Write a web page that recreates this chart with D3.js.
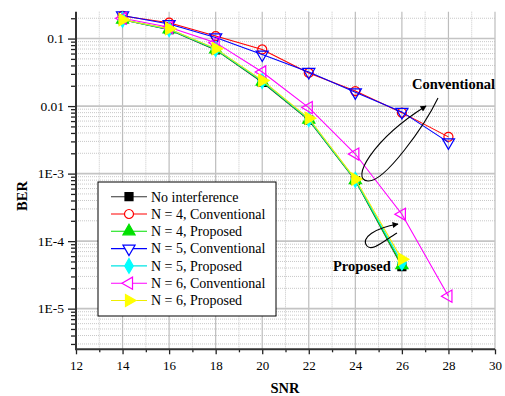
<!DOCTYPE html>
<html lang="en">
<head>
<meta charset="UTF-8">
<title>BER vs SNR</title>
<script src="https://cdnjs.cloudflare.com/ajax/libs/d3/7.8.5/d3.min.js"></script>
<style>
  body { margin: 0; background: #fff; }
  text { font-family: "Liberation Serif", "Times New Roman", serif; fill: #000; }
</style>
</head>
<body>
<div id="chart"></div>
<script>
// SNR points
const snr = [14, 16, 18, 20, 22, 24, 26, 28];

const noInterference = [0.19, 0.135, 0.068, 0.0225, 0.0062, 0.00079, 4.2e-5];
const n4Conventional = [0.216, 0.172, 0.109, 0.069, 0.031, 0.0167, 0.0080, 0.0035];
const n4Proposed = [0.19, 0.137, 0.069, 0.023, 0.0063, 0.0008, 4.4e-5];
const n5Conventional = [0.22, 0.164, 0.104, 0.058, 0.032, 0.016, 0.0082, 0.0029];
const n5Proposed = [0.19, 0.138, 0.07, 0.0235, 0.0064, 0.00081, 4.8e-5];
const n6Conventional = [0.2, 0.147, 0.087, 0.032, 0.0095, 0.00195, 0.00025, 1.53e-5];
const n6Proposed = [0.19, 0.14, 0.071, 0.024, 0.0066, 0.00083, 5.4e-5];

const xTicks = [12, 14, 16, 18, 20, 22, 24, 26, 28, 30];
const yTicks = [0.1, 0.01, 1e-3, 1e-4, 1e-5];
const yTickLabels = ["0.1", "0.01", "1E-3", "1E-4", "1E-5"];

const series = [
  {name: "No interference", values: noInterference, color: "#000", line: "#333", symbol: d3.symbolSquare, fill: true, rot: 0},
  {name: "N = 4, Conventional", values: n4Conventional, color: "#ff0000", line: "#ff0000", symbol: d3.symbolCircle, fill: false, rot: 0},
  {name: "N = 4, Proposed", values: n4Proposed, color: "#00e000", line: "#00e000", symbol: d3.symbolTriangle, fill: true, rot: 0},
  {name: "N = 5, Conventional", values: n5Conventional, color: "#0000ff", line: "#0000ff", symbol: d3.symbolTriangle, fill: false, rot: 180},
  {name: "N = 5, Proposed", values: n5Proposed, color: "#00ffff", line: "#00e5e5", symbol: d3.symbolDiamond, fill: true, rot: 0},
  {name: "N = 6, Conventional", values: n6Conventional, color: "#ff00ff", line: "#ff00ff", symbol: d3.symbolTriangle, fill: false, rot: -90},
  {name: "N = 6, Proposed", values: n6Proposed, color: "#ffff00", line: "#eeee00", symbol: d3.symbolTriangle, fill: true, rot: 90}
];

const W = 505, H = 396;
const pLeft = 76, pRight = 495, pTop = 11.7, pBottom = 349.3;

const svg = d3.select("#chart").append("svg").attr("width", W).attr("height", H);

const x = d3.scaleLinear().domain([12, 30]).range([pLeft, pRight]);
const y = d3.scaleLog().domain([2.5e-6, 0.25]).range([pBottom, pTop]);

// minor values
const minorX = d3.range(13, 30, 2);
const minorY = [];
for (let e = -6; e <= -1; e++) {
  for (let m = 2; m <= 9; m++) {
    const v = m * Math.pow(10, e);
    if (v >= 2.5e-6 && v <= 0.25) minorY.push(v);
  }
}

const grid = svg.append("g");
grid.selectAll(".gxm").data(minorX).enter().append("line")
  .attr("x1", d => x(d)).attr("x2", d => x(d)).attr("y1", pTop).attr("y2", pBottom)
  .attr("stroke", "#c8c8c8").attr("stroke-width", 1).attr("stroke-dasharray", "1,1");
grid.selectAll(".gym").data(minorY).enter().append("line")
  .attr("x1", pLeft).attr("x2", pRight).attr("y1", d => y(d)).attr("y2", d => y(d))
  .attr("stroke", "#c8c8c8").attr("stroke-width", 1).attr("stroke-dasharray", "1,1");
grid.selectAll(".gx").data(xTicks.slice(1)).enter().append("line")
  .attr("x1", d => x(d)).attr("x2", d => x(d)).attr("y1", pTop).attr("y2", pBottom)
  .attr("stroke", "#bdbdbd").attr("stroke-width", 1.2);
grid.selectAll(".gy").data(yTicks).enter().append("line")
  .attr("x1", pLeft).attr("x2", pRight).attr("y1", d => y(d)).attr("y2", d => y(d))
  .attr("stroke", "#c4c4c4").attr("stroke-width", 1.6);

// axes
const xAxis = d3.axisBottom(x).tickValues(xTicks).tickSize(5).tickFormat(d3.format("d"));
const gx = svg.append("g").attr("transform", `translate(0,${pBottom})`).call(xAxis);
gx.select(".domain").remove();
gx.selectAll(".tick line").attr("stroke", "#222").attr("stroke-width", 1.3);
gx.selectAll(".tick text").attr("dy", 0).attr("y", 21).attr("font-size", 13)
  .attr("font-family", "Liberation Serif");
const gxMinor = svg.append("g").attr("transform", `translate(0,${pBottom})`)
  .call(d3.axisBottom(x).tickValues(minorX).tickSize(3).tickFormat(""));
gxMinor.select(".domain").remove();
gxMinor.selectAll(".tick line").attr("stroke", "#222").attr("stroke-width", 1.3);

const yAxis = d3.axisLeft(y).tickValues(yTicks).tickSize(8)
  .tickFormat((d, i) => yTickLabels[i]);
const gy = svg.append("g").attr("transform", `translate(${pLeft},0)`).call(yAxis);
gy.select(".domain").remove();
gy.selectAll(".tick line").attr("stroke", "#222").attr("stroke-width", 1.3);
gy.selectAll(".tick text").attr("x", -12).attr("font-size", 13.5)
  .attr("font-family", "Liberation Serif");
const gyMinor = svg.append("g").attr("transform", `translate(${pLeft},0)`)
  .call(d3.axisLeft(y).tickValues(minorY).tickSize(5).tickFormat(""));
gyMinor.select(".domain").remove();
gyMinor.selectAll(".tick line").attr("stroke", "#222").attr("stroke-width", 1.3);

svg.append("line").attr("x1", pLeft).attr("x2", pRight).attr("y1", pBottom).attr("y2", pBottom)
  .attr("stroke", "#333").attr("stroke-width", 2);
svg.append("line").attr("x1", pLeft).attr("x2", pLeft).attr("y1", pTop).attr("y2", pBottom + 1)
  .attr("stroke", "#333").attr("stroke-width", 2);

// axis titles
svg.append("text").attr("x", 285).attr("y", 393).attr("text-anchor", "middle")
  .attr("font-size", 14.5).attr("font-weight", "bold").text("SNR");
svg.append("text").attr("transform", "translate(27,196) rotate(-90)").attr("text-anchor", "middle")
  .attr("font-size", 14.5).attr("font-weight", "bold").text("BER");

// series
const line = d3.line().x(d => x(d[0])).y(d => y(d[1]));
const sym = d3.symbol().size(64);

series.forEach(s => {
  const pts = s.values.map((v, i) => [snr[i], v]);
  const g = svg.append("g");
  g.append("path").datum(pts).attr("d", line).attr("fill", "none")
    .attr("stroke", s.line).attr("stroke-width", 1.1);
  g.selectAll("path.m").data(pts).enter().append("path").attr("class", "m")
    .attr("d", sym.type(s.symbol)())
    .attr("transform", d => `translate(${x(d[0])},${y(d[1])}) rotate(${s.rot})`)
    .attr("fill", s.fill ? s.color : "#fff").attr("fill-opacity", s.fill ? 1 : 0)
    .attr("stroke", s.color).attr("stroke-width", 1.2);
});

// legend
const lg = svg.append("g");
lg.append("rect").attr("x", 98).attr("y", 182).attr("width", 178).attr("height", 134)
  .attr("fill", "#fff").attr("stroke", "#000").attr("stroke-width", 1);
series.forEach((s, i) => {
  const yy = 196.7 + i * 17.3;
  lg.append("line").attr("x1", 111).attr("x2", 147).attr("y1", yy).attr("y2", yy)
    .attr("stroke", s.line).attr("stroke-width", 1.1);
  lg.append("path").attr("d", sym.type(s.symbol)())
    .attr("transform", `translate(129,${yy}) rotate(${s.rot})`)
    .attr("fill", s.fill ? s.color : "#fff")
    .attr("stroke", s.color).attr("stroke-width", 1.2);
  lg.append("text").attr("x", 151).attr("y", yy + 4.8).attr("font-size", 14).text(s.name);
});

// annotations
const defs = svg.append("defs");
defs.append("marker").attr("id", "arr").attr("viewBox", "0 0 10 10")
  .attr("refX", 9).attr("refY", 5).attr("markerWidth", 7).attr("markerHeight", 6)
  .attr("orient", "auto").attr("markerUnits", "userSpaceOnUse")
  .append("path").attr("d", "M0,0 L10,5 L0,10 Z").attr("fill", "#000");

svg.append("path")
  .attr("d", "M438,98 C425,125 385,182 368,181 C350,180 372,140 426,106")
  .attr("fill", "none").attr("stroke", "#000").attr("stroke-width", 1.1)
  .attr("marker-end", "url(#arr)");
svg.append("path")
  .attr("d", "M397,233 C385,240 372,252 367,246 C360,238 375,228 398,224")
  .attr("fill", "none").attr("stroke", "#000").attr("stroke-width", 1.1)
  .attr("marker-end", "url(#arr)");

svg.append("text").attr("x", 412).attr("y", 89).attr("font-size", 14.5)
  .attr("font-weight", "bold").text("Conventional");
svg.append("text").attr("x", 333).attr("y", 271).attr("font-size", 14.5)
  .attr("font-weight", "bold").text("Proposed");
</script>
</body>
</html>
